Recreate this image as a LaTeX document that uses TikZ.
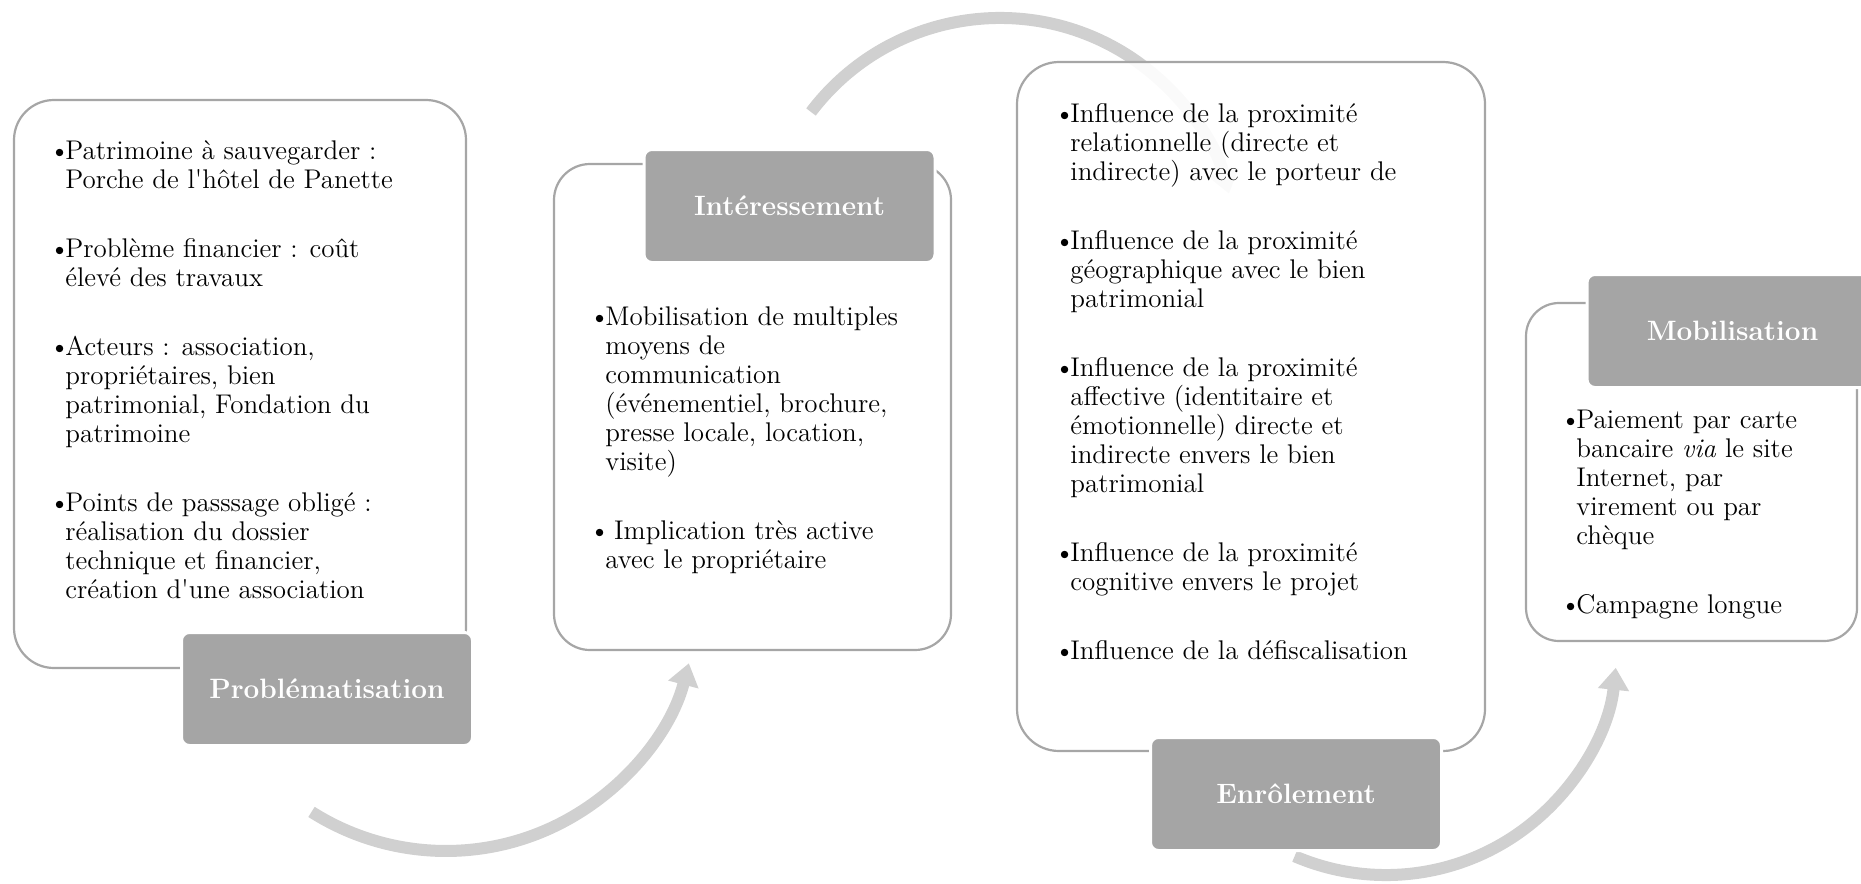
\documentclass[tikz,border=0pt]{standalone}
\usetikzlibrary{arrows.meta}
\definecolor{boxline}{RGB}{166,166,166}
\definecolor{labfill}{RGB}{165,165,165}
\definecolor{flowgray}{RGB}{208,208,208}
\newcommand\bul{\makebox[6pt][l]{\hspace*{-2pt}\textbullet}}
\newcommand\ind{\hspace*{6pt}}
\begin{document}
\begin{tikzpicture}[x=0.5pt,y=-0.5pt,
  panel/.style={draw=boxline, line width=1.1pt, fill=white, fill opacity=0.9,
    inner sep=0pt, outer sep=0pt},
  label/.style={fill=labfill, draw=white, line width=1.5pt, rounded corners=4pt,
    minimum width=145.5pt, minimum height=56.5pt, inner sep=0pt, text=white,
    font=\fontsize{14}{16}\selectfont\bfseries},
  txt/.style={anchor=base west, inner sep=0pt, font=\fontsize{13.5}{14.5}\selectfont},
  flow/.style={draw=flowgray, line width=6pt, -{Triangle[width=15pt,length=11pt]}}]
\useasboundingbox (0,0) rectangle (1861,883);

% connectors (arcs)
\coordinate (a1s) at (311.5,811.9);
\coordinate (a2s) at (811,112);
\coordinate (a3s) at (1294.6,856.2);
\draw[flow] (a1s) arc[start angle=122.4, end angle=14.6, radius=251];
\draw[flow] (a2s) arc[start angle=-142.9, end angle=-15, radius=237];
\draw[flow] (a3s) arc[start angle=113.3, end angle=5.9, radius=231];

% panels
\node[panel, rounded corners=20pt, minimum width=226pt, minimum height=284pt] (p1) at (240,384) {};
\node[panel, rounded corners=18pt, minimum width=198.5pt, minimum height=243pt] (p2) at (752.5,407) {};
\node[panel, rounded corners=21pt, minimum width=234pt, minimum height=344.5pt] (p3) at (1251,406.5) {};
\node[panel, rounded corners=16.5pt, minimum width=165.5pt, minimum height=169pt] (p4) at (1691.5,472) {};

% labels
\node[label] (l1) at (327,689) {Problématisation};
\node[label] (l2) at (789.5,206) {Intéressement};
\node[label] (l3) at (1296,794) {Enrôlement};
\node[label] (l4) at (1732.5,331) {Mobilisation};

% texts
\node[txt] (t1) at (53,159) {\begin{tabular}[t]{@{}l@{}}
\bul Patrimoine à sauvegarder :\\
\ind Porche de l\textquotesingle hôtel de Panette\\[20pt]
\bul Problème financier : coût\\
\ind élevé des travaux\\[20pt]
\bul Acteurs : association,\\
\ind propriétaires, bien\\
\ind patrimonial, Fondation du\\
\ind patrimoine\\[20pt]
\bul Points de passsage obligé :\\
\ind réalisation du dossier\\
\ind technique et financier,\\
\ind création d\textquotesingle une association
\end{tabular}};

\node[txt] (t2) at (593,325) {\begin{tabular}[t]{@{}l@{}}
\bul Mobilisation de multiples\\
\ind moyens de\\
\ind communication\\
\ind (événementiel, brochure,\\
\ind presse locale, location,\\
\ind visite)\\[20pt]
\bul\ Implication très active\\
\ind avec le propriétaire
\end{tabular}};

\node[txt] (t3) at (1058,122) {\begin{tabular}[t]{@{}l@{}}
\bul Influence de la proximité\\
\ind relationnelle (directe et\\
\ind indirecte) avec le porteur de\\[20pt]
\bul Influence de la proximité\\
\ind géographique avec le bien\\
\ind patrimonial\\[20pt]
\bul Influence de la proximité\\
\ind affective (identitaire et\\
\ind émotionnelle) directe et\\
\ind indirecte envers le bien\\
\ind patrimonial\\[20pt]
\bul Influence de la proximité\\
\ind cognitive envers le projet\\[20pt]
\bul Influence de la défiscalisation
\end{tabular}};

\node[txt] (t4) at (1564,428) {\begin{tabular}[t]{@{}l@{}}
\bul Paiement par carte\\
\ind bancaire \textit{via} le site\\
\ind Internet, par\\
\ind virement ou par\\
\ind chèque\\[20pt]
\bul Campagne longue
\end{tabular}};
\end{tikzpicture}
\end{document}
